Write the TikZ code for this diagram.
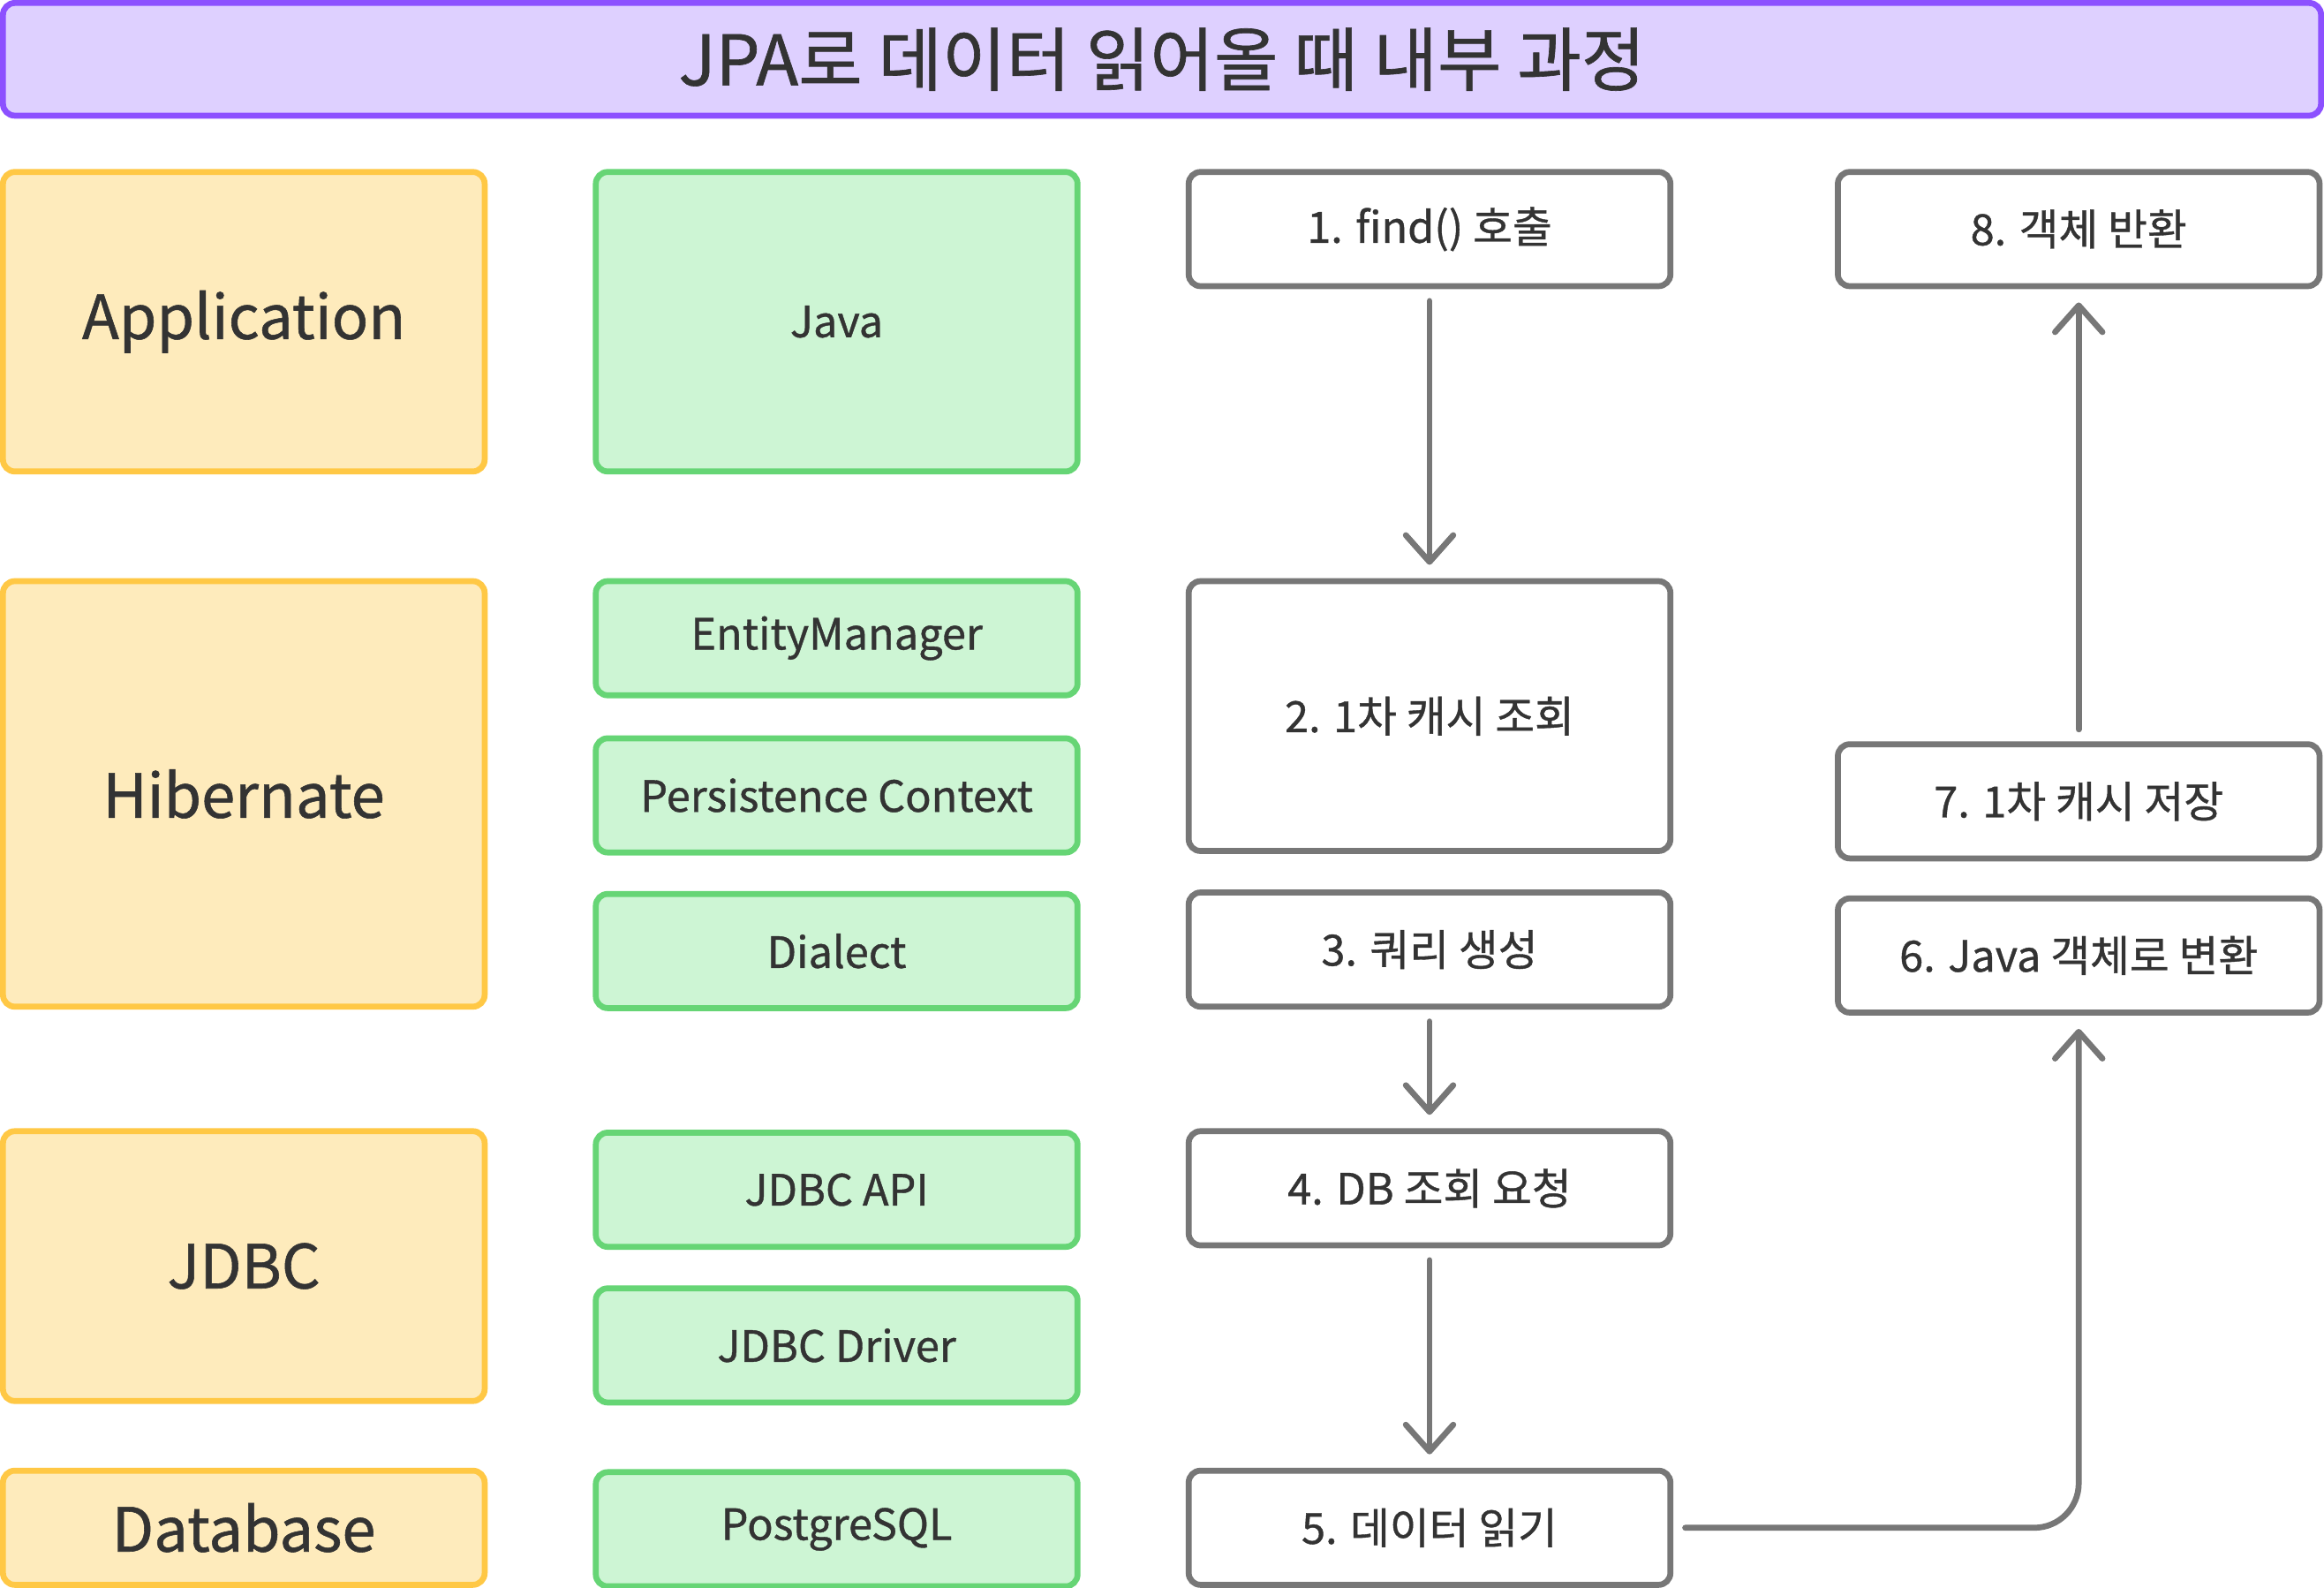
\documentclass[tikz,border=0pt]{standalone}
\usepackage{fontspec}
\setmainfont{Noto Sans CJK KR}[FakeBold=0.8]
\usepackage{tikz}
\usetikzlibrary{arrows.meta,positioning}
\definecolor{jpapurple}{HTML}{8C50FF}
\definecolor{jpalilac}{HTML}{DED0FF}
\definecolor{jpayellow}{HTML}{FFC845}
\definecolor{jpacream}{HTML}{FEEBBC}
\definecolor{jpagreen}{HTML}{66D575}
\definecolor{jpamint}{HTML}{CDF5D4}
\definecolor{jpagray}{HTML}{777777}
\definecolor{jpatext}{HTML}{333333}
\tikzstyle{arrow} = [line width=4pt,-{Straight Barb[length=18pt,width=32pt,round]},color=jpagray,line cap=round,shorten <=8pt,shorten >=9pt]
\tikzstyle{titlenode} = [rectangle, rounded corners=8pt, text centered, draw=jpapurple, fill=jpalilac, line width=4pt, text=jpatext, font=\fontsize{47}{54}\selectfont]
\tikzstyle{layernode} = [rectangle, rounded corners=8pt, minimum width=325pt, minimum height=77pt, text centered, draw=jpayellow, fill=jpacream, line width=4pt, text=jpatext, font=\fontsize{41}{48}\selectfont]
\tikzstyle{technode} = [rectangle, rounded corners=8pt, minimum width=325pt, minimum height=77pt, text centered, draw=jpagreen, fill=jpamint, line width=4pt, text=jpatext, font=\fontsize{29}{34}\selectfont]
\tikzstyle{stepnode} = [rectangle, rounded corners=8pt, minimum width=325pt, minimum height=77pt, text centered, draw=jpagray, fill=white, line width=4pt, text=jpatext, font=\fontsize{29}{34}\selectfont]

\begin{document}
\begin{tikzpicture}[x=1pt, y=1pt]
\useasboundingbox (0,0) rectangle (1568,-1071);

% Title
\node[titlenode, minimum width=1564pt, minimum height=76pt] (title) at (784,-40) {JPA로 데이터 읽어올 때 내부 과정};

% Layers
\node[layernode, minimum height=202pt] (app) at (164.5,-217) {Application};
\node[layernode, minimum height=287pt, below=70pt of app] (hib) {Hibernate};
\node[layernode, minimum height=182pt, below=80pt of hib] (jdbc) {JDBC};
\node[layernode, below=43pt of jdbc] (db) {Database};

% Components
\node[technode, minimum height=202pt, right=71pt of app] (java) {Java};
\node[technode, below=70pt of java] (em) {EntityManager};
\node[technode, below=25pt of em] (pc) {Persistence Context};
\node[technode, below=24pt of pc] (dialect) {Dialect};
\node[technode, below=80pt of dialect] (api) {JDBC API};
\node[technode, below=24pt of api] (driver) {JDBC Driver};
\node[technode, below=43pt of driver] (pg) {PostgreSQL};

% Steps
\node[stepnode, right=71pt of java.north east, anchor=north west] (s1) {1. find() 호출};
\node[stepnode, minimum height=182pt, below=195pt of s1] (s2) {2. 1차 캐시 조회};
\node[stepnode, below=24pt of s2] (s3) {3. 쿼리 생성};
\node[stepnode, below=80pt of s3] (s4) {4. DB 조회 요청};
\node[stepnode, below=148pt of s4] (s5) {5. 데이터 읽기};
\node[stepnode, right=109pt of s1] (s8) {8. 객체 반환};
\node[stepnode, below=305pt of s8] (s7) {7. 1차 캐시 저장};
\node[stepnode, below=23pt of s7] (s6) {6. Java 객체로 변환};

\draw[arrow] (s1) -- (s2);
\draw[arrow] (s3) -- (s4);
\draw[arrow] (s4) -- (s5);
\draw[arrow, rounded corners=30pt] (s5) -| (s6);
\draw[arrow] (s7) -- (s8);
\end{tikzpicture}
\end{document}
